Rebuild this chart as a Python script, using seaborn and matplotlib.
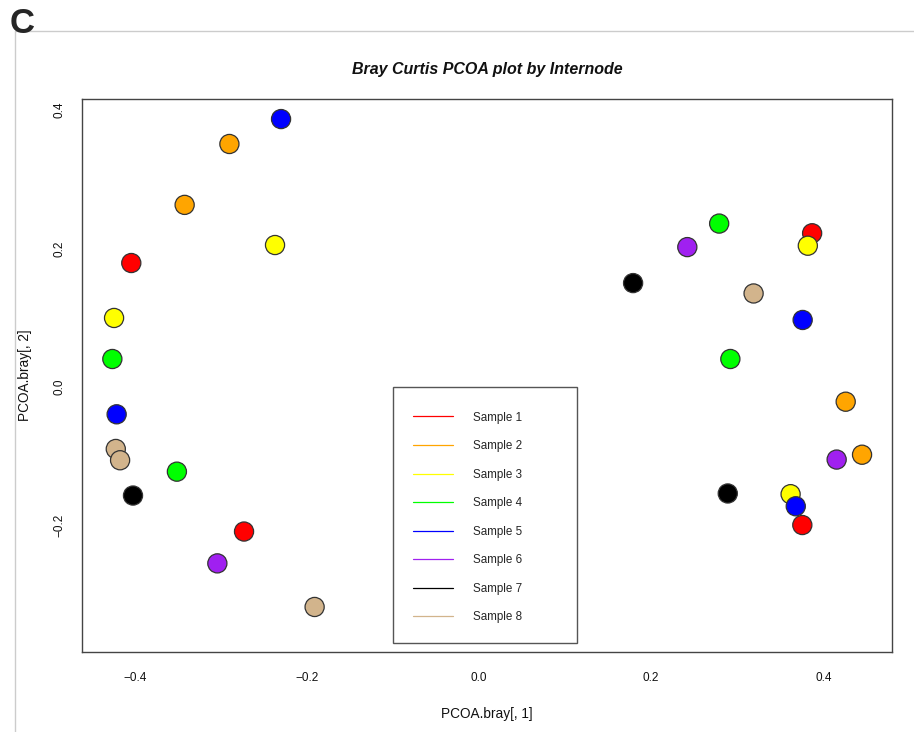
import matplotlib
matplotlib.use("Agg")
import matplotlib.pyplot as plt
from matplotlib.lines import Line2D
from matplotlib.patches import Rectangle
import seaborn as sns
import pandas as pd

# PCoA scores (axis 1, axis 2) and the sample each internode belongs to
pc1 = [-0.230, -0.290, -0.342, -0.404, -0.424, -0.426, -0.421, -0.422, -0.417,
       -0.351, -0.402, -0.273, -0.304, -0.191, -0.237,
       0.279, 0.387, 0.242, 0.382, 0.179, 0.319, 0.376, 0.292, 0.426, 0.445,
       0.4155, 0.289, 0.362, 0.368, 0.3756]
pc2 = [0.387, 0.351, 0.263, 0.179, 0.0996, 0.0403, -0.0396, -0.0897, -0.106,
       -0.1225, -0.157, -0.209, -0.255, -0.318, 0.205,
       0.236, 0.222, 0.202, 0.204, 0.150, 0.135, 0.0967, 0.0403, -0.0214, -0.098,
       -0.105, -0.154, -0.155, -0.1725, -0.1996]
sample = ["Sample 5", "Sample 2", "Sample 2", "Sample 1", "Sample 3", "Sample 4",
          "Sample 5", "Sample 8", "Sample 8", "Sample 4", "Sample 7", "Sample 1",
          "Sample 6", "Sample 8", "Sample 3",
          "Sample 4", "Sample 1", "Sample 6", "Sample 3", "Sample 7", "Sample 8",
          "Sample 5", "Sample 4", "Sample 2", "Sample 2", "Sample 6", "Sample 7",
          "Sample 3", "Sample 5", "Sample 1"]

sample_names = ["Sample 1", "Sample 2", "Sample 3", "Sample 4",
                "Sample 5", "Sample 6", "Sample 7", "Sample 8"]
sample_colors = ["#FF0000", "#FFA500", "#FFFF00", "#00FF00",
                 "#0000FF", "#A020F0", "#000000", "#D2B48C"]

xlim = (-0.4616, 0.4798)
ylim = (-0.3835, 0.416)
x_ticks = [-0.4, -0.2, 0.0, 0.2, 0.4]
y_ticks = [-0.2, 0.0, 0.2, 0.4]

df = pd.DataFrame({"PC1": pc1, "PC2": pc2, "Sample": sample})

sns.set_style("white")
plt.rcParams["font.family"] = ["Liberation Sans", "DejaVu Sans"]

fig = plt.figure(figsize=(9.14, 7.32), dpi=100)
ax = fig.add_axes([81.7 / 914, 1 - 652.3 / 732, 810.3 / 914, 553.3 / 732])

palette = dict(zip(sample_names, sample_colors))
sns.scatterplot(data=df, x="PC1", y="PC2", hue="Sample", palette=palette,
                s=190, edgecolor="#333333", linewidth=0.9, legend=False,
                ax=ax, zorder=3)

ax.set_xlim(*xlim)
ax.set_ylim(*ylim)
ax.set_xticks(x_ticks)
ax.set_yticks(y_ticks)
ax.set_xticklabels([f"{v:.1f}".replace("-", "\u2212") for v in x_ticks])
ax.set_yticklabels([f"{v:.1f}".replace("-", "\u2212") for v in y_ticks],
                   rotation=90, va="center")
ax.tick_params(axis="both", direction="out", length=7, width=1,
               color="#444444", labelsize=8.5, labelcolor="#111111")
ax.tick_params(axis="x", pad=7)
ax.tick_params(axis="y", pad=5)
for sp in ax.spines.values():
    sp.set_color("#444444")
    sp.set_linewidth(1)
    sp.set_visible(True)

ax.set_xlabel("PCOA.bray[, 1]", fontsize=9.8, labelpad=17, color="#111111")
ax.set_ylabel("PCOA.bray[, 2]", fontsize=9.8, labelpad=15, color="#111111")
ax.set_title("Bray Curtis PCOA plot by Internode", fontsize=11.5,
             fontweight="bold", fontstyle="italic", pad=18, color="#111111")

# legend box and entries
ax.add_patch(Rectangle((0.3842, 0.0168), 0.6113 - 0.3842, 0.4795 - 0.0168,
                       transform=ax.transAxes, facecolor="white",
                       edgecolor="#555555", linewidth=1, zorder=4))
handles = [Line2D([0], [0], color=c, lw=0.9) for c in sample_colors]
leg = ax.legend(handles, sample_names, loc="upper left",
                bbox_to_anchor=(0.4089, 0.4352), frameon=False,
                fontsize=8.4, borderpad=0, borderaxespad=0,
                handlelength=3.45, handletextpad=1.72, labelspacing=1.42)
leg.set_zorder(5)

# panel letter and frame
fig.text(10 / 914, 1 - 7 / 732, "C", fontsize=25, fontweight="bold",
         va="top", ha="left")
fig.add_artist(Line2D([15 / 914, 1], [1 - 31 / 732, 1 - 31 / 732],
                      transform=fig.transFigure, color="#cccccc", lw=1))
fig.add_artist(Line2D([15 / 914, 15 / 914], [0, 1 - 31 / 732],
                      transform=fig.transFigure, color="#cccccc", lw=1))

fig.savefig("out.png", dpi=100, facecolor="white")
